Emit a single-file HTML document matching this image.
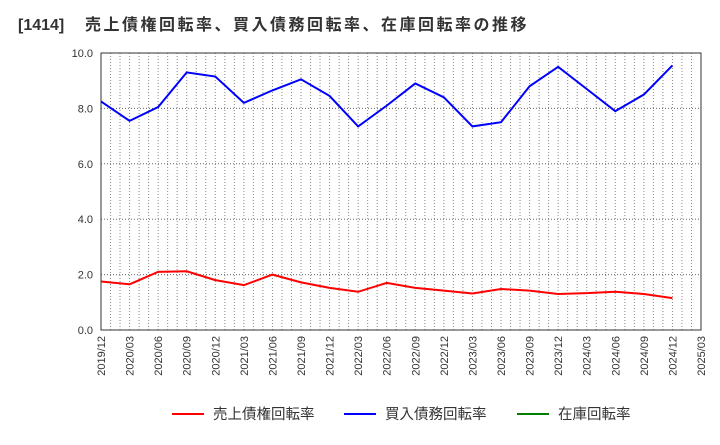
<!DOCTYPE html>
<html><head><meta charset="utf-8"><style>
body{margin:0;background:#fff;font-family:"Liberation Sans","Noto Sans CJK JP",sans-serif}
</style></head><body>
<svg width="720" height="440" xmlns="http://www.w3.org/2000/svg">
<text x="18" y="30" font-size="16" font-weight="bold" fill="#333" font-family="Liberation Sans,Noto Sans CJK JP,sans-serif"><tspan>[1414]</tspan><tspan x="85" letter-spacing="2.5">売上債権回転率、買入債務回転率、在庫回転率の推移</tspan></text>
<g id="grid"></g>
<g id="axes"></g>
<g id="series"></g>
<g id="legend" font-size="14.5" font-family="Liberation Sans,Noto Sans CJK JP,sans-serif" fill="#333">
<line x1="172" y1="414" x2="204" y2="414" stroke="#ff0000" stroke-width="2"/>
<text x="213" y="419">売上債権回転率</text>
<line x1="344" y1="414" x2="376" y2="414" stroke="#0000ff" stroke-width="2"/>
<text x="385" y="419">買入債務回転率</text>
<line x1="517" y1="414" x2="549" y2="414" stroke="#008000" stroke-width="2"/>
<text x="558" y="419">在庫回転率</text>
</g>
</svg>
<script>
const xLabels=["2019/12","2020/03","2020/06","2020/09","2020/12","2021/03","2021/06","2021/09","2021/12","2022/03","2022/06","2022/09","2022/12","2023/03","2023/06","2023/09","2023/12","2024/03","2024/06","2024/09","2024/12","2025/03"];
const yTicks=[0,2,4,6,8,10];
const payables=[8.25,7.55,8.05,9.3,9.15,8.2,8.65,9.05,8.45,7.35,8.1,8.9,8.4,7.35,7.5,8.8,9.5,8.7,7.9,8.5,9.55];
const receivables=[1.75,1.65,2.1,2.12,1.8,1.62,2.0,1.72,1.52,1.38,1.7,1.52,1.42,1.32,1.48,1.42,1.3,1.33,1.38,1.3,1.15];
const L=101,R=701,T=53,B=330,NS="http://www.w3.org/2000/svg";
const xs=i=>L+(R-L)*i/(xLabels.length-1);
const ys=v=>B-(B-T)*v/10;
function mk(t,a,p){const e=document.createElementNS(NS,t);for(const k in a)e.setAttribute(k,a[k]);p.appendChild(e);return e;}
const g=document.getElementById('grid'),ax=document.getElementById('axes'),s=document.getElementById('series');
const months=(xLabels.length-1)*3;
for(let m=1;m<months;m++){const x=L+(R-L)*m/months;
const l=mk('line',{x1:x,x2:x,y1:T,y2:B,stroke:'#888','stroke-width':1,'stroke-dasharray':'1,2'},g);

}
yTicks.forEach(v=>{const y=ys(v);
if(v>0&&v<10){const l=mk('line',{x1:L,x2:R,y1:y,y2:y,stroke:'#666','stroke-width':1,'stroke-dasharray':'1,2'},g);

}
const t=mk('text',{x:L-8,y:y+4,'text-anchor':'end','font-size':11,fill:'#333','font-family':'Liberation Sans,sans-serif'},ax);t.textContent=v.toFixed(1);

});
xLabels.forEach((lb,i)=>{const x=xs(i);
const t=mk('text',{x:0,y:0,transform:`translate(${x+4},${B+6}) rotate(-90)`,'text-anchor':'end','font-size':11,fill:'#333','font-family':'Liberation Sans,sans-serif'},ax);t.textContent=lb;

});
const fr=mk('rect',{x:L,y:T,width:R-L,height:B-T,fill:'none',stroke:'#333','stroke-width':1},ax);


function line(d,c,n){const p=mk('polyline',{points:d.map((v,i)=>xs(i)+','+ys(v)).join(' '),fill:'none',stroke:c,'stroke-width':2},s);

}
line(payables,'#0000ff','payables-turnover-line');
line(receivables,'#ff0000','receivables-turnover-line');
</script>
</body></html>
